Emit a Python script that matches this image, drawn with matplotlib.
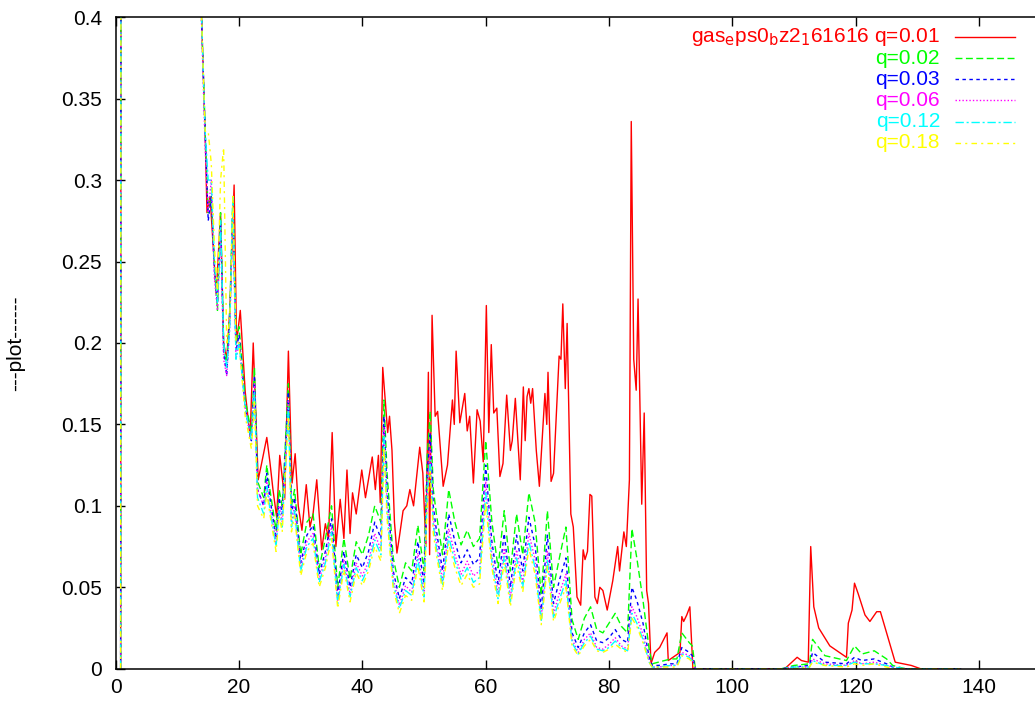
import matplotlib
matplotlib.use("Agg")
import matplotlib.pyplot as plt
from matplotlib.ticker import MultipleLocator, FuncFormatter

plt.rcParams['font.family'] = ['Liberation Sans', 'DejaVu Sans']

# red series (q=0.01), own x grid
red_x = [0.8, 0.9, 5, 13.5, 14.5, 14.8, 15.3, 15.8, 16.3, 17,
         17.5, 18, 18.5, 19.2, 19.6, 20.2, 21, 21.8, 22.3, 23.1,
         23.6, 24.5, 25, 25.5, 26.1, 26.6, 27.4, 28, 28.6, 29.1,
         29.6, 30.2, 30.9, 31.5, 32, 32.6, 33.4, 34, 34.5, 35.1,
         35.7, 36.4, 37, 37.5, 38, 38.4, 39, 39.9, 40.5, 41.6,
         42.1, 42.6, 42.9, 43.3, 43.7, 44.1, 44.4, 44.8, 45.2, 45.6,
         46, 46.6, 47.2, 47.7, 48.3, 49.3, 49.8, 50.3, 50.7, 50.9,
         51.3, 51.8, 52.2, 53.1, 53.8, 54.6, 54.9, 55.2, 55.8, 56.6,
         57, 57.4, 58, 58.6, 59.1, 59.6, 60.1, 60.5, 60.9, 61.3,
         61.8, 62.3, 62.8, 63.4, 64, 64.3, 64.8, 65.6, 66.1, 66.4,
         66.7, 67, 67.3, 67.6, 68.2, 68.7, 69.6, 69.9, 70.1, 70.6,
         71, 71.9, 72.2, 72.5, 72.9, 73.2, 73.8, 74.2, 74.8, 75.4,
         75.8, 76.1, 76.5, 76.9, 77.2, 77.7, 78.1, 78.5, 79, 79.7,
         80.1, 80.6, 81.4, 81.7, 82.4, 82.8, 83.3, 83.6, 84, 84.4,
         84.7, 85.3, 85.7, 86.1, 86.4, 86.8, 87.4, 88.2, 89.4, 89.6,
         91.5, 91.8, 92.1, 92.6, 93.1, 93.6, 108.5, 110.5, 111.2, 112.3,
         112.7, 113.2, 114, 115.8, 118.5, 118.8, 119.4, 119.8, 120.4, 121.5,
         122.3, 123.4, 124, 125, 126.4, 129, 130.5, 137]
red_y = [0, 0.9, 0.9, 0.45, 0.33, 0.28, 0.29, 0.26, 0.23, 0.28,
         0.2, 0.19, 0.22, 0.297, 0.2, 0.22, 0.17, 0.142, 0.2, 0.116,
         0.125, 0.142, 0.127, 0.11, 0.093, 0.131, 0.104, 0.195, 0.114, 0.132,
         0.1, 0.085, 0.113, 0.087, 0.095, 0.116, 0.073, 0.089, 0.08, 0.145,
         0.075, 0.104, 0.08, 0.122, 0.083, 0.108, 0.095, 0.122, 0.105, 0.13,
         0.11, 0.131, 0.102, 0.185, 0.165, 0.145, 0.155, 0.134, 0.09, 0.071,
         0.081, 0.097, 0.1, 0.11, 0.1, 0.136, 0.12, 0.075, 0.182, 0.07,
         0.217, 0.155, 0.158, 0.112, 0.125, 0.165, 0.15, 0.195, 0.151, 0.169,
         0.146, 0.155, 0.114, 0.159, 0.152, 0.127, 0.223, 0.145, 0.199, 0.157,
         0.16, 0.118, 0.126, 0.168, 0.134, 0.14, 0.166, 0.116, 0.173, 0.14,
         0.167, 0.172, 0.163, 0.172, 0.134, 0.112, 0.169, 0.15, 0.182, 0.115,
         0.12, 0.192, 0.19, 0.224, 0.172, 0.212, 0.095, 0.087, 0.044, 0.039,
         0.073, 0.067, 0.072, 0.107, 0.106, 0.044, 0.04, 0.05, 0.048, 0.036,
         0.044, 0.054, 0.075, 0.06, 0.084, 0.075, 0.116, 0.336, 0.19, 0.171,
         0.227, 0.101, 0.157, 0.048, 0.04, 0.003, 0.01, 0.013, 0.022, 0.005,
         0.01, 0.032, 0.029, 0.033, 0.038, 0, 0, 0.007, 0.005, 0.004,
         0.075, 0.038, 0.025, 0.014, 0.007, 0.028, 0.036, 0.0525, 0.046, 0.033,
         0.029, 0.035, 0.035, 0.022, 0.004, 0.002, 0, 0]

# shared x grid for the other q values
x_low = [0.8, 0.9, 5, 13.5, 14.5, 15, 15.5, 16, 16.5, 17,
         17.5, 18, 18.5, 19, 19.5, 20, 21, 22, 22.5, 23,
         24, 24.5, 25, 26, 26.5, 27, 28, 28.5, 29, 30,
         31, 32, 33, 34, 35, 36, 37, 38, 39, 40,
         41, 42, 43, 43.5, 44, 45, 46, 47, 48, 49,
         50, 50.5, 51, 51.5, 52, 53, 54, 55, 56, 57,
         58, 59, 60, 60.5, 61, 62, 63, 64, 65, 66,
         67, 68, 69, 70, 71, 72, 73, 74, 75, 76,
         77, 78, 79, 80, 81, 82, 83, 83.7, 84.5, 85.5,
         86.5, 87, 88, 90, 91, 91.8, 93, 93.5, 94, 108,
         110, 112.5, 113, 115, 118.5, 119.8, 121, 123, 125, 126,
         128, 137]

green_y = [0, 0.9, 0.9, 0.45, 0.33, 0.28, 0.29, 0.25, 0.22, 0.28,
           0.2, 0.185, 0.22, 0.29, 0.2, 0.21, 0.165, 0.145, 0.185, 0.115,
           0.105, 0.125, 0.11, 0.085, 0.11, 0.1, 0.175, 0.1, 0.11, 0.07,
           0.09, 0.095, 0.062, 0.08, 0.1, 0.05, 0.08, 0.055, 0.078, 0.07,
           0.082, 0.1, 0.09, 0.165, 0.12, 0.068, 0.05, 0.065, 0.06, 0.088,
           0.06, 0.13, 0.158, 0.11, 0.095, 0.07, 0.11, 0.09, 0.076, 0.085,
           0.075, 0.08, 0.14, 0.115, 0.09, 0.062, 0.097, 0.06, 0.095, 0.07,
           0.108, 0.09, 0.045, 0.097, 0.05, 0.069, 0.087, 0.03, 0.018, 0.031,
           0.038, 0.024, 0.022, 0.028, 0.034, 0.026, 0.022, 0.086, 0.068, 0.042,
           0.012, 0.003, 0.004, 0.006, 0.006, 0.022, 0.016, 0.014, 0, 0,
           0.002, 0.003, 0.018, 0.008, 0.005, 0.014, 0.009, 0.011, 0.006, 0.002,
           0, 0]
blue_y = [0, 0.9, 0.9, 0.45, 0.33, 0.275, 0.29, 0.245, 0.225, 0.275,
          0.195, 0.18, 0.215, 0.285, 0.195, 0.205, 0.16, 0.14, 0.18, 0.11,
          0.1, 0.12, 0.105, 0.08, 0.105, 0.095, 0.17, 0.095, 0.105, 0.065,
          0.082, 0.088, 0.058, 0.072, 0.092, 0.045, 0.072, 0.05, 0.07, 0.062,
          0.072, 0.09, 0.08, 0.155, 0.11, 0.06, 0.043, 0.056, 0.052, 0.078,
          0.052, 0.12, 0.145, 0.1, 0.085, 0.06, 0.095, 0.078, 0.065, 0.073,
          0.064, 0.068, 0.125, 0.1, 0.078, 0.052, 0.083, 0.05, 0.082, 0.06,
          0.093, 0.076, 0.036, 0.082, 0.04, 0.055, 0.068, 0.022, 0.013, 0.022,
          0.027, 0.017, 0.016, 0.019, 0.024, 0.018, 0.016, 0.05, 0.042, 0.028,
          0.007, 0.002, 0.002, 0.003, 0.003, 0.013, 0.01, 0.008, 0, 0,
          0.001, 0.002, 0.01, 0.004, 0.003, 0.007, 0.005, 0.006, 0.003, 0.001,
          0, 0]
magenta_y = [0, 0.9, 0.9, 0.45, 0.32, 0.28, 0.3, 0.24, 0.22, 0.27,
             0.19, 0.18, 0.21, 0.28, 0.19, 0.2, 0.16, 0.14, 0.175, 0.11,
             0.1, 0.115, 0.1, 0.078, 0.1, 0.09, 0.165, 0.09, 0.1, 0.062,
             0.078, 0.083, 0.055, 0.068, 0.087, 0.042, 0.067, 0.046, 0.065, 0.057,
             0.066, 0.083, 0.073, 0.148, 0.102, 0.055, 0.039, 0.051, 0.047, 0.071,
             0.047, 0.112, 0.135, 0.093, 0.078, 0.054, 0.086, 0.07, 0.058, 0.066,
             0.057, 0.06, 0.115, 0.092, 0.07, 0.046, 0.074, 0.044, 0.073, 0.053,
             0.083, 0.067, 0.031, 0.072, 0.034, 0.047, 0.058, 0.018, 0.01, 0.018,
             0.022, 0.013, 0.012, 0.015, 0.019, 0.014, 0.012, 0.038, 0.032, 0.021,
             0.005, 0.001, 0.001, 0.002, 0.002, 0.01, 0.008, 0.006, 0, 0,
             0.001, 0.001, 0.006, 0.003, 0.002, 0.005, 0.003, 0.004, 0.002, 0.001,
             0, 0]
cyan_y = [0, 0.9, 0.9, 0.45, 0.33, 0.3, 0.3, 0.25, 0.225, 0.275,
          0.2, 0.185, 0.21, 0.29, 0.19, 0.2, 0.16, 0.14, 0.17, 0.105,
          0.095, 0.112, 0.098, 0.075, 0.097, 0.087, 0.16, 0.087, 0.097, 0.06,
          0.075, 0.08, 0.053, 0.065, 0.084, 0.04, 0.064, 0.044, 0.062, 0.054,
          0.063, 0.079, 0.07, 0.142, 0.097, 0.052, 0.037, 0.048, 0.045, 0.067,
          0.044, 0.106, 0.128, 0.088, 0.074, 0.051, 0.081, 0.066, 0.055, 0.062,
          0.053, 0.056, 0.108, 0.086, 0.066, 0.043, 0.069, 0.041, 0.068, 0.05,
          0.078, 0.062, 0.029, 0.067, 0.031, 0.043, 0.054, 0.016, 0.009, 0.016,
          0.02, 0.012, 0.011, 0.013, 0.017, 0.013, 0.011, 0.034, 0.028, 0.018,
          0.004, 0.001, 0.001, 0.002, 0.002, 0.009, 0.007, 0.005, 0, 0,
          0.001, 0.001, 0.005, 0.002, 0.002, 0.004, 0.003, 0.003, 0.002, 0.001,
          0, 0]
yellow_y = [0, 0.9, 0.9, 0.45, 0.33, 0.33, 0.31, 0.26, 0.23, 0.3,
            0.32, 0.2, 0.215, 0.29, 0.2, 0.2, 0.155, 0.135, 0.165, 0.1,
            0.092, 0.108, 0.095, 0.072, 0.094, 0.084, 0.155, 0.084, 0.094, 0.057,
            0.072, 0.077, 0.05, 0.062, 0.08, 0.037, 0.061, 0.041, 0.059, 0.051,
            0.06, 0.075, 0.066, 0.136, 0.092, 0.049, 0.034, 0.045, 0.042, 0.063,
            0.041, 0.1, 0.121, 0.083, 0.07, 0.048, 0.077, 0.062, 0.051, 0.058,
            0.05, 0.052, 0.102, 0.081, 0.062, 0.04, 0.065, 0.038, 0.064, 0.047,
            0.074, 0.058, 0.027, 0.063, 0.029, 0.04, 0.05, 0.014, 0.008, 0.014,
            0.018, 0.011, 0.01, 0.012, 0.015, 0.012, 0.01, 0.031, 0.026, 0.016,
            0.004, 0.001, 0.001, 0.001, 0.001, 0.008, 0.006, 0.004, 0, 0,
            0, 0.001, 0.004, 0.002, 0.001, 0.003, 0.002, 0.003, 0.001, 0,
            0, 0]

labels = [r'gas$_{\rm e}$ps0$_{\rm b}$z2$_{\rm 1}$61616 q=0.01',
          'q=0.02', 'q=0.03', 'q=0.06', 'q=0.12', 'q=0.18']
colors = ['#ff0000', '#00ff00', '#0000ff', '#ff00ff', '#00ffff', '#ffff00']
styles = ['-', (0, (5, 2.5)), (0, (2.5, 2.5)), (0, (1, 1.5)),
          (0, (6, 2, 1.5, 2)), (0, (4, 3, 1.5, 3))]

series = [(red_x, red_y), (x_low, green_y), (x_low, blue_y),
          (x_low, magenta_y), (x_low, cyan_y), (x_low, yellow_y)]

fs = 15

fig = plt.figure(figsize=(10.35, 7.05), dpi=100)
ax = fig.add_axes([0.1118, 0.0515, 0.8882, 0.924])

for (xs, ys), c, ls in zip(series, colors, styles):
    ax.plot(xs, ys, color=c, linestyle=ls, linewidth=1.0)

ax.set_xlim(0, 149.07)
ax.set_ylim(0, 0.4)
ax.xaxis.set_major_locator(MultipleLocator(20))
ax.yaxis.set_major_locator(MultipleLocator(0.05))
ax.yaxis.set_major_formatter(FuncFormatter(lambda v, p: '%g' % round(v, 3)))
ax.tick_params(direction='in', length=6.5, width=1, labelsize=fs,
               top=True, right=False, pad=7)
ax.tick_params(axis='y', pad=10)
ax.spines['right'].set_visible(False)
for s in ['left', 'bottom', 'top']:
    ax.spines[s].set_linewidth(1.1)

ax.set_ylabel('---plot------', fontsize=fs)
ax.yaxis.set_label_coords(-0.099, 0.5)

# gnuplot-style key: right aligned text, sample line after it
row_y = [0.9698, 0.9373, 0.9048, 0.8723, 0.8398, 0.8073]
for lab, c, ls, yy in zip(labels, colors, styles, row_y):
    ax.text(0.8967, yy, lab, color=c, fontsize=fs, ha='right', va='center',
            transform=ax.transAxes)
    ax.plot([0.913, 0.978], [yy, yy], color=c, linestyle=ls, linewidth=1.0,
            transform=ax.transAxes, clip_on=False)

fig.savefig('out.png', dpi=100)
